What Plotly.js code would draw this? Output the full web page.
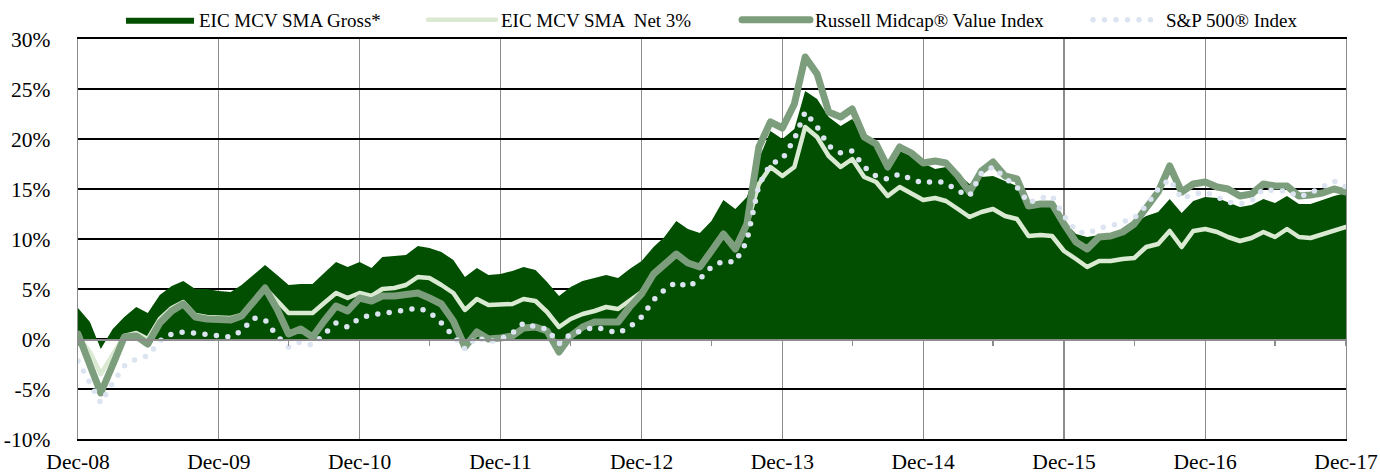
<!DOCTYPE html>
<html><head><meta charset="utf-8">
<script src="https://cdn.plot.ly/plotly-3.0.1.min.js"></script>
<style>
html,body{margin:0;padding:0;background:#fff;}
#chart{width:1380px;height:473px;}
.js-line{stroke-linecap:round;stroke-linejoin:round;}
</style></head><body><div id="chart"></div><script>
// Monthly values, Dec-08 .. Dec-17 (percent)
const gross = [3.1, 1.7, -1.0, 1.0, 2.2, 3.2, 2.6, 4.4, 5.3, 5.8, 5.0, 5.0,
  4.8, 4.7, 5.4, 6.4, 7.4, 6.4, 5.4, 5.5, 5.5, 6.6, 7.7, 7.2,
  7.7, 7.1, 8.2, 8.3, 8.4, 9.3, 9.1, 8.7, 7.9, 6.2, 7.1, 6.4,
  6.5, 6.8, 7.2, 6.9, 5.7, 4.3, 5.2, 5.8, 6.1, 6.4, 6.1, 7.0,
  7.8, 9.2, 10.2, 11.8, 11.0, 10.6, 11.8, 13.9, 13.0, 14.2, 18.0, 20.8,
  20.0, 21.0, 24.8, 24.0, 22.2, 21.3, 22.0, 20.3, 19.7, 17.7, 18.8, 18.3,
  17.6, 17.0, 17.2, 16.5, 15.5, 16.2, 16.3, 15.8, 15.3, 13.3, 13.4, 13.4,
  11.8, 10.5, 10.2, 10.4, 10.4, 10.8, 11.6, 12.3, 12.7, 14.0, 12.6, 13.8,
  14.2, 14.1, 13.7, 13.2, 13.4, 14.0, 13.6, 14.3, 13.5, 13.5, 13.9, 14.3,
  14.6];
const net = [0.3, -1.3, -3.5, -1.5, 0.3, 0.6, 0.0, 2.0, 3.1, 3.7, 2.4, 2.2,
  2.1, 2.1, 2.4, 3.6, 5.1, 3.8, 2.6, 2.6, 2.6, 3.6, 4.6, 4.1,
  4.6, 4.3, 5.0, 5.1, 5.4, 6.2, 6.1, 5.4, 4.6, 2.9, 4.0, 3.4,
  3.4, 3.5, 4.0, 3.8, 2.7, 1.2, 2.0, 2.5, 2.8, 3.2, 3.0, 3.8,
  4.7, 6.4, 7.5, 8.5, 7.7, 7.2, 8.8, 10.5, 9.3, 11.5, 15.5, 17.2,
  16.3, 17.2, 21.2, 20.2, 18.3, 17.2, 18.0, 16.2, 15.7, 14.3, 15.2, 14.5,
  13.9, 14.1, 13.8, 13.0, 12.2, 12.7, 13.0, 12.3, 12.0, 10.3, 10.4, 10.3,
  8.8, 8.0, 7.2, 7.8, 7.8, 8.0, 8.1, 9.2, 9.5, 10.8, 9.2, 10.8,
  11.0, 10.7, 10.2, 9.8, 10.1, 10.7, 10.2, 11.0, 10.2, 10.1, 10.5, 10.9,
  11.2];
const russell = [0.5, -2.5, -5.4, -2.6, 0.2, 0.3, -0.5, 1.6, 2.8, 3.5, 2.2, 2.0,
  2.0, 1.9, 2.3, 3.8, 5.1, 3.0, 0.5, 1.0, 0.2, 1.8, 3.3, 2.8,
  4.1, 3.8, 4.3, 4.3, 4.4, 4.6, 4.1, 3.5, 1.8, -0.8, 0.7, 0.0,
  0.1, 0.3, 1.1, 1.2, 0.8, -1.3, 0.3, 1.2, 1.7, 1.7, 1.7, 3.2,
  4.5, 6.5, 7.5, 8.5, 7.6, 7.2, 8.8, 10.5, 9.0, 11.5, 19.2, 21.7,
  21.1, 23.5, 28.2, 26.5, 22.7, 22.2, 23.0, 20.2, 19.5, 17.2, 19.2, 18.6,
  17.6, 17.8, 17.6, 16.3, 14.7, 16.8, 17.7, 16.3, 16.0, 13.3, 13.5, 13.5,
  11.5, 9.7, 9.0, 10.2, 10.3, 10.7, 11.5, 13.0, 14.7, 17.3, 14.7, 15.5,
  15.7, 15.2, 15.0, 14.3, 14.5, 15.5, 15.3, 15.3, 14.3, 14.4, 14.6, 15.0,
  14.7];
const sp500 = [-2.2, -4.5, -6.4, -4.4, -2.7, -2.0, -1.7, -0.2, 0.5, 0.7, 0.6, 0.4,
  0.3, 0.2, 0.8, 2.1, 1.9, 0.3, -0.8, -0.3, -0.6, 0.5, 1.6, 1.2,
  2.1, 2.4, 2.6, 2.7, 2.9, 3.1, 2.7, 1.6, 0.2, -1.0, 0.2, -0.3,
  0.0, 0.6, 1.6, 1.2, 1.0, -0.5, 0.5, 0.9, 1.2, 0.9, 0.6, 1.2,
  2.2, 3.9, 4.9, 5.7, 5.2, 6.0, 7.2, 7.8, 7.7, 9.8, 15.4, 17.5,
  18.0, 20.0, 22.7, 21.2, 19.3, 18.6, 18.8, 17.2, 16.3, 16.0, 16.5, 16.0,
  15.6, 15.8, 15.6, 14.8, 14.3, 16.6, 17.2, 16.1, 15.2, 13.6, 14.1, 14.3,
  12.3, 10.8, 10.5, 11.1, 11.3, 11.7, 12.1, 13.3, 15.0, 16.0, 14.0, 14.5,
  14.7, 14.2, 13.7, 13.5, 13.8, 15.0, 14.8, 14.8, 14.2, 14.6, 15.2, 15.8,
  15.2];

const seriesNames = ['EIC MCV SMA Gross*', 'EIC MCV SMA  Net 3%', 'Russell Midcap® Value Index', 'S&P 500® Index'];
const xTickVals = ['2008-12-31','2009-12-31','2010-12-31','2011-12-31','2012-12-31','2013-12-31','2014-12-31','2015-12-31','2016-12-31','2017-12-31'];
const xTickLabels = ['Dec-08','Dec-09','Dec-10','Dec-11','Dec-12','Dec-13','Dec-14','Dec-15','Dec-16','Dec-17'];
const halfYearTicks = ['2008-12-31','2009-06-30','2009-12-31','2010-06-30','2010-12-31','2011-06-30','2011-12-31','2012-06-30','2012-12-31','2013-06-30','2013-12-31','2014-06-30','2014-12-31','2015-06-30','2015-12-31','2016-06-30','2016-12-31','2017-06-30','2017-12-31'];
const yTickVals = [-10, -5, 0, 5, 10, 15, 20, 25, 30];
const yTickLabels = ['-10%', '-5%', '0%', '5%', '10%', '15%', '20%', '25%', '30%'];

// month-end dates Dec-08 .. Dec-17
const months = [];
for (let k = 0; k < gross.length; k++) {
  const d = new Date(Date.UTC(2008, 11 + k + 1, 0));
  months.push(d.toISOString().slice(0, 10));
}

const serif = 'Liberation Serif, Times New Roman, serif';
const colors = {gross: '#024f02', net: '#dae9d1', russell: '#7d9e7d', sp: '#dbe4f0'};

const traces = [
  {x: months, y: gross, name: seriesNames[0], type: 'scatter', mode: 'lines',
   fill: 'tozeroy', fillcolor: colors.gross, line: {color: colors.gross, width: 0},
   legend: 'legend'},
  {x: months, y: net, name: seriesNames[1], type: 'scatter', mode: 'lines',
   line: {color: colors.net, width: 4.5}, legend: 'legend2'},
  {x: months, y: russell, name: seriesNames[2], type: 'scatter', mode: 'lines',
   line: {color: colors.russell, width: 7}, legend: 'legend3'},
  {x: months, y: sp500, name: seriesNames[3], type: 'scatter', mode: 'lines', xaxis: 'x2',
   line: {color: colors.sp, width: 5.5, dash: '0px,11.5px'}, legend: 'legend4'}
];

const legFont = {family: serif, size: 19, color: '#000'};
function leg(xpx) {
  return {orientation: 'h', xref: 'container', yref: 'container',
          x: xpx / 1380, xanchor: 'left', y: 1 - 20 / 473, yanchor: 'middle',
          font: legFont, itemwidth: 68, bgcolor: 'rgba(0,0,0,0)', borderwidth: 0};
}

const layout = {
  width: 1380, height: 473,
  margin: {l: 78, r: 33.5, t: 38, b: 34, pad: 0},
  paper_bgcolor: '#fff', plot_bgcolor: '#fff',
  showlegend: true,
  legend: leg(121), legend2: leg(423), legend3: leg(737), legend4: leg(1088),
  xaxis: {type: 'date', range: ['2008-12-31', '2017-12-31'],
          tickvals: xTickVals, ticktext: xTickLabels, ticks: '',
          tickfont: {family: serif, size: 21.5, color: '#000'},
          showgrid: true, gridcolor: '#8c8c8c', gridwidth: 1.3,
          showline: true, linecolor: '#000', linewidth: 2, mirror: true,
          zeroline: false, automargin: false, ticklabelstandoff: 2},
  xaxis2: {type: 'date', range: ['2008-12-31', '2017-12-31'], overlaying: 'x',
           anchor: 'free', position: 0.25, side: 'bottom',
           tickvals: halfYearTicks, showticklabels: false,
           ticks: 'outside', ticklen: 5, tickwidth: 1.3, tickcolor: '#8c8c8c',
           showgrid: false, showline: true, linecolor: '#8c8c8c', linewidth: 1.5,
           zeroline: false, automargin: false},
  yaxis: {range: [-10, 30], tickvals: yTickVals, ticktext: yTickLabels, ticks: '',
          tickfont: {family: serif, size: 21.5, color: '#000'},
          showgrid: true, gridcolor: '#000', gridwidth: 1.6,
          showline: true, linecolor: '#8c8c8c', linewidth: 1.3, mirror: true,
          zeroline: false, automargin: false, ticklabelstandoff: 22}
};

Plotly.newPlot('chart', traces, layout, {displayModeBar: false, staticPlot: true});
</script></body></html>
